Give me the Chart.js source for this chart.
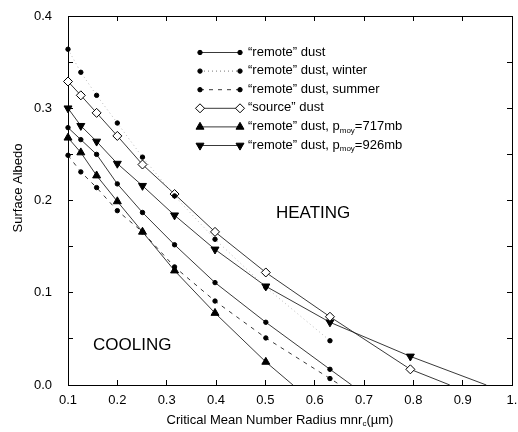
<!DOCTYPE html>
<html>
<head>
<meta charset="utf-8">
<script src="https://cdn.jsdelivr.net/npm/chart.js@4.4.1/dist/chart.umd.min.js"></script>
<style>
html,body{margin:0;padding:0;background:#fff;}
#wrap{width:518px;height:432px;position:relative;}
</style>
</head>
<body>
<div id="wrap"><canvas id="c"></canvas></div>
<script>
// Critical mean number radius (µm) sampled values
const radii = [0.1, 0.126, 0.158, 0.2, 0.251, 0.316, 0.398, 0.501, 0.631, 0.794];
// Surface albedo per series
const remoteDust   = [0.279, 0.266, 0.250, 0.218, 0.187, 0.152, 0.111, 0.068, 0.017];
const remoteWinter = [0.364, 0.339, 0.314, 0.284, 0.247, 0.205, 0.158, 0.106, 0.048];
const remoteSummer = [0.249, 0.231, 0.214, 0.189, 0.166, 0.128, 0.091, 0.051, 0.007];
const sourceDust   = [0.329, 0.314, 0.295, 0.270, 0.239, 0.207, 0.166, 0.122, 0.074, 0.017];
const remote717    = [0.268, 0.252, 0.227, 0.199, 0.166, 0.124, 0.078, 0.025];
const remote926    = [0.300, 0.281, 0.264, 0.240, 0.216, 0.184, 0.147, 0.107, 0.068, 0.031];
// radius where each curve reaches zero albedo (null = curve stops at last point)
const zeroCrossing = {remote: 0.675, winter: null, summer: 0.652, source: 0.874, p717: 0.556, p926: 0.948};
// legend labels: [main text, subscript, tail]
const legendLabels = [
  ['\u201cremote\u201d dust', '', ''],
  ['\u201cremote\u201d dust, winter', '', ''],
  ['\u201cremote\u201d dust, summer', '', ''],
  ['\u201csource\u201d dust', '', ''],
  ['\u201cremote\u201d dust, p', 'moy', '=717mb'],
  ['\u201cremote\u201d dust, p', 'moy', '=926mb']
];
const xTicks = [0.1, 0.2, 0.3, 0.4, 0.5, 0.6, 0.7, 0.8, 0.9, 1.0];
const yTicks = [0.0, 0.1, 0.2, 0.3, 0.4];
const yMinorTicks = [0.05, 0.15, 0.25, 0.35];
const xTitle = ['Critical Mean Number Radius mnr', 'c', '(\u00b5m)'];
const yTitle = 'Surface Albedo';

const FONT = '"Liberation Sans", Arial, sans-serif';

function series(vals, end) {
  const pts = vals.map((v, i) => ({x: radii[i], y: v}));
  if (end !== null) pts.push({x: end, y: 0});
  return pts;
}
const hideEnd = (r) => (c) => (c.raw && c.raw.y === 0 ? 0 : r);

const styles = [
  {data: series(remoteDust, zeroCrossing.remote), pointStyle: 'circle', r: 2.2, fill: '#000', dash: [], color: '#222', width: 0.9},
  {data: series(remoteWinter, zeroCrossing.winter), pointStyle: 'circle', r: 2.2, fill: '#000', dash: [1, 3], color: '#aaa', width: 0.8},
  {data: series(remoteSummer, zeroCrossing.summer), pointStyle: 'circle', r: 2.2, fill: '#000', dash: [4, 5], color: '#222', width: 0.9},
  {data: series(sourceDust, zeroCrossing.source), pointStyle: 'rectRot', r: 4.5, fill: '#fff', dash: [], color: '#222', width: 0.9},
  {data: series(remote717, zeroCrossing.p717), pointStyle: 'triangle', r: 4.6, fill: '#000', dash: [], color: '#222', width: 0.9, rot: 0},
  {data: series(remote926, zeroCrossing.p926), pointStyle: 'triangle', r: 4.6, fill: '#000', dash: [], color: '#222', width: 0.9, rot: 180}
];

const datasets = styles.map((s, i) => ({
  label: legendLabels[i].join(''),
  data: s.data,
  showLine: true,
  borderColor: s.color,
  borderWidth: s.width,
  borderDash: s.dash,
  pointStyle: s.pointStyle,
  pointRotation: s.rot || 0,
  pointRadius: hideEnd(s.r),
  pointHoverRadius: hideEnd(s.r),
  pointBackgroundColor: s.fill,
  pointBorderColor: '#000',
  pointBorderWidth: 1,
  clip: false,
  tension: 0
}));

const textPlugin = {
  id: 'texts',
  afterDraw(chart) {
    const ctx = chart.ctx;
    ctx.save();
    ctx.fillStyle = '#000';
    ctx.font = '17px ' + FONT;
    ctx.textBaseline = 'middle';
    ctx.textAlign = 'left';
    ctx.fillText('HEATING', 276, 213);
    ctx.fillText('COOLING', 93, 345);

    const x0 = 200, x1 = 240, tx = 248;
    legendLabels.forEach((lab, i) => {
      const yy = 52 + i * 18.6;
      const s = styles[i];
      ctx.save();
      ctx.strokeStyle = s.color === '#aaa' ? '#555' : s.color;
      ctx.lineWidth = s.width;
      ctx.setLineDash(s.dash);
      ctx.beginPath();
      ctx.moveTo(x0, yy + 0.5); ctx.lineTo(x1, yy + 0.5);
      ctx.stroke();
      ctx.restore();
      [x0, x1].forEach(px => {
        ctx.save();
        ctx.setLineDash([]);
        ctx.fillStyle = s.fill;
        ctx.strokeStyle = '#000';
        ctx.lineWidth = 1;
        Chart.helpers.drawPoint(ctx, {pointStyle: s.pointStyle, radius: s.r, rotation: s.rot || 0, borderWidth: 1}, px, yy + 0.5);
        ctx.restore();
      });
      ctx.fillStyle = '#000';
      ctx.textBaseline = 'middle';
      ctx.font = '13px ' + FONT;
      ctx.fillText(lab[0], tx, yy);
      if (lab[1]) {
        let w = ctx.measureText(lab[0]).width;
        ctx.font = '8px ' + FONT;
        ctx.fillText(lab[1], tx + w, yy + 4);
        w += ctx.measureText(lab[1]).width;
        ctx.font = '13px ' + FONT;
        ctx.fillText(lab[2], tx + w, yy);
      }
    });

    ctx.fillStyle = '#000';
    ctx.font = '13px ' + FONT;
    ctx.textBaseline = 'middle';
    const w0 = ctx.measureText(xTitle[0]).width;
    ctx.font = '8px ' + FONT;
    const w1 = ctx.measureText(xTitle[1]).width;
    ctx.font = '13px ' + FONT;
    const w2 = ctx.measureText(xTitle[2]).width;
    const sx = 280 - (w0 + w1 + w2) / 2;
    ctx.fillText(xTitle[0], sx, 420);
    ctx.font = '8px ' + FONT;
    ctx.fillText(xTitle[1], sx + w0, 424);
    ctx.font = '13px ' + FONT;
    ctx.fillText(xTitle[2], sx + w0 + w1, 420);

    ctx.save();
    ctx.translate(18, 188);
    ctx.rotate(-Math.PI / 2);
    ctx.textAlign = 'center';
    ctx.fillText(yTitle, 0, 0);
    ctx.restore();
    ctx.restore();
  }
};

const innerGrid = {display: true, drawOnChartArea: false, drawTicks: true, tickLength: -5, color: '#000', lineWidth: 1};
const frameBorder = {display: true, color: '#000', width: 1};
const allY = yTicks.concat(yMinorTicks).sort((a, b) => a - b);
const isMinorY = (v) => yMinorTicks.some(m => Math.abs(m - v) < 1e-9);

new Chart(document.getElementById('c'), {
  type: 'scatter',
  data: {datasets},
  options: {
    responsive: true,
    maintainAspectRatio: false,
    animation: false,
    events: [],
    layout: {padding: {top: 16, right: 0, left: 0, bottom: 0}},
    plugins: {legend: {display: false}, tooltip: {enabled: false}},
    scales: {
      x: {
        type: 'linear', position: 'bottom', min: 0.1, max: 1.0,
        grid: innerGrid, border: frameBorder,
        afterBuildTicks: (s) => { s.ticks = xTicks.map(v => ({value: v})); },
        afterFit: (s) => { s.height = 47; s.paddingRight = 6; s.paddingLeft = 0; },
        ticks: {
          color: '#000', padding: 13, maxRotation: 0, autoSkip: false,
          font: {family: FONT, size: 13},
          callback: (v) => (Math.abs(v - 1) < 1e-9 ? '1.' : Number(v).toFixed(1))
        }
      },
      x2: {
        type: 'linear', position: 'top', min: 0.1, max: 1.0,
        grid: innerGrid, border: frameBorder,
        afterBuildTicks: (s) => { s.ticks = xTicks.map(v => ({value: v})); },
        afterFit: (s) => { s.height = 0; s.paddingRight = 0; s.paddingLeft = 0; },
        ticks: {display: false}
      },
      y: {
        type: 'linear', position: 'left', min: 0, max: 0.4,
        grid: innerGrid, border: frameBorder,
        afterBuildTicks: (s) => { s.ticks = allY.map(v => ({value: v})); },
        afterFit: (s) => { s.width = 68; s.paddingTop = 0; s.paddingBottom = 0; },
        ticks: {
          color: '#000', padding: 21, autoSkip: false,
          font: {family: FONT, size: 13},
          callback: (v) => (isMinorY(v) ? '' : Number(v).toFixed(1))
        }
      },
      y2: {
        type: 'linear', position: 'right', min: 0, max: 0.4,
        grid: innerGrid, border: frameBorder,
        afterBuildTicks: (s) => { s.ticks = allY.map(v => ({value: v})); },
        afterFit: (s) => { s.width = 0; s.paddingTop = 0; s.paddingBottom = 0; },
        ticks: {display: false}
      }
    }
  },
  plugins: [textPlugin]
});
</script>
</body>
</html>
